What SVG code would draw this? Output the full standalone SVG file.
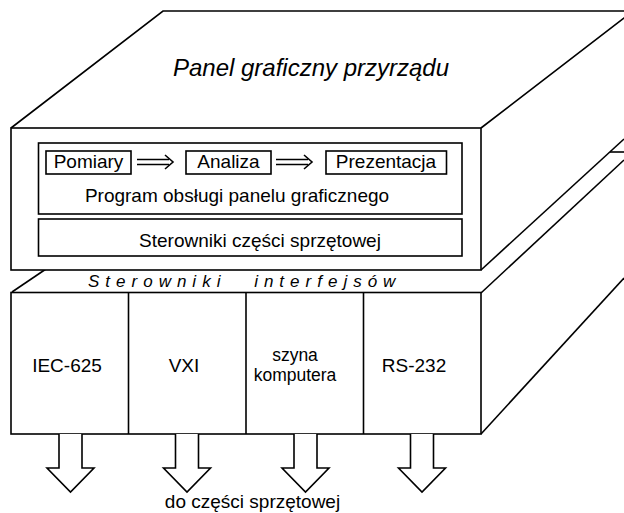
<svg xmlns="http://www.w3.org/2000/svg" width="624" height="513" viewBox="0 0 624 513">
  <style>
    .ln{fill:none;stroke:#000;stroke-width:1.6}
    .bx{fill:#fff;stroke:#000;stroke-width:1.6}
    .t{font-family:"Liberation Sans",Arial,sans-serif;font-size:19px;fill:#000;text-anchor:middle}
    .it{font-style:italic}
  </style>
  <defs>
    <!-- hollow block arrow pointing down, origin at the shaft top centre -->
    <path id="down" d="M-11.5,0 V34 H-23.5 L0,58 L23.5,34 H11.5 V0" fill="#fff" stroke="#000" stroke-width="1.6"/>
    <!-- double-stroke implication arrow, 36 px long -->
    <g id="impl" fill="none" stroke="#000" stroke-width="1.6">
      <path d="M0,-2.5 H32 M0,2.5 H32"/>
      <path d="M28,-7 L36,0 L28,7"/>
    </g>
  </defs>
  <rect width="624" height="513" fill="#fff"/>

  <!-- lower block: interface drivers -->
  <g id="interfejsy">
    <path class="ln" d="M12,292 L46,269"/>
    <path class="ln" d="M481,293 L624,160"/>
    <path class="ln" d="M481,434 L624,278"/>
    <path class="ln" d="M610,152 H624"/>
    <rect class="bx" x="11" y="292.5" width="470" height="141.5"/>
    <text class="t it" x="88" y="287" style="font-size:17px;text-anchor:start;letter-spacing:6px;word-spacing:17px">Sterowniki interfejsów</text>
  </g>
  <g id="iec625">
    <text class="t" x="67" y="372">IEC-625</text>
  </g>
  <g id="vxi">
    <path class="ln" d="M128.5,292.5 V434"/>
    <text class="t" x="184" y="372">VXI</text>
  </g>
  <g id="szyna">
    <path class="ln" d="M246,292.5 V434"/>
    <text class="t" x="295" y="361" style="font-size:17.5px">szyna</text>
    <text class="t" x="295" y="381" style="font-size:17.5px">komputera</text>
  </g>
  <g id="rs232">
    <path class="ln" d="M363.5,292.5 V434"/>
    <text class="t" x="414" y="372">RS-232</text>
  </g>

  <!-- upper block: graphical panel -->
  <g id="panel">
    <path class="ln" d="M11,128 L163,11 H624 M481,128 L633,11"/>
    <path class="ln" d="M481,270 L624,139"/>
    <rect class="bx" x="11" y="128" width="470" height="142"/>
    <text class="t it" x="311" y="76" style="font-size:24px">Panel graficzny przyrządu</text>
  </g>
  <g id="program">
    <rect class="bx" x="38.5" y="143" width="423.5" height="71"/>
    <text class="t" x="237" y="202">Program obsługi panelu graficznego</text>
  </g>
  <g id="pomiary">
    <rect class="bx" x="46" y="151" width="85" height="23"/>
    <text class="t" x="88.5" y="168">Pomiary</text>
  </g>
  <g id="analiza">
    <rect class="bx" x="186" y="151" width="85" height="23"/>
    <text class="t" x="228.5" y="168">Analiza</text>
  </g>
  <g id="prezentacja">
    <rect class="bx" x="326" y="151" width="120.5" height="23"/>
    <text class="t" x="386" y="168">Prezentacja</text>
  </g>
  <g id="sterowniki">
    <rect class="bx" x="38.5" y="219" width="423.5" height="37"/>
    <text class="t" x="260" y="247">Sterowniki części sprzętowej</text>
  </g>

  <!-- connectors -->
  <g id="connectors">
    <use href="#impl" x="137" y="162"/>
    <use href="#impl" x="276" y="162"/>
    <use href="#down" x="70.5" y="434"/>
    <use href="#down" x="187" y="434"/>
    <use href="#down" x="305.5" y="434"/>
    <use href="#down" x="422" y="434"/>
  </g>
  <text class="t" x="252.5" y="508">do części sprzętowej</text>
</svg>
